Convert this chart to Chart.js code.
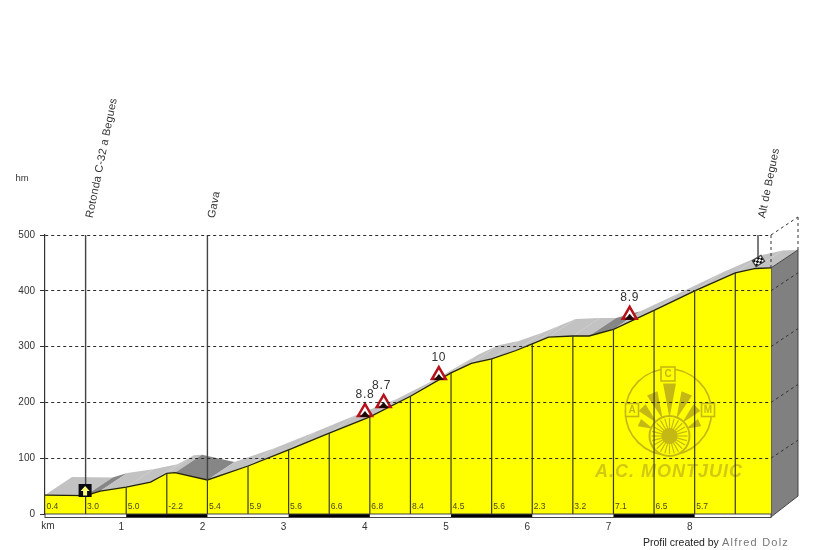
<!DOCTYPE html>
<html lang="es">
<head>
  <meta charset="UTF-8">
  <title>Alt de Begues</title>
  <script src="https://cdn.jsdelivr.net/npm/chart.js"></script>
  <style>
    html, body { margin: 0; padding: 0; background: #fff; }
    canvas { display: block; }
  </style>
</head>
<body>
  <canvas id="profile" width="815" height="550"></canvas>
  <script>
    // Profile
    const profileKm = [0, 0.5, 0.68, 1, 1.3, 1.5, 1.6, 2, 2.5, 3, 3.5, 4, 4.5, 5, 5.25, 5.5, 5.8, 6, 6.2, 6.5, 6.7, 7, 7.5, 8, 8.5, 8.75, 8.94];
    const profileElev = [34, 33, 41, 48, 57, 73, 74, 61, 86, 115, 145, 174, 211, 253, 270, 278, 293, 305, 317, 319, 319, 331, 365, 400, 432, 440, 441];

    // Gradient of each half kilometre
    const gradeLabels = ['0.4', '3.0', '5.0', '-2.2', '5.4', '5.9', '5.6', '6.6', '6.8', '8.4', '4.5', '5.6', '2.3', '3.2', '7.1', '6.5', '5.7'];

    // Steep ramps (triangle signs)
    const signKm = [3.94, 4.17, 4.85, 7.2];
    const signElev = [183, 199, 249, 357];
    const signLabels = ['8.8', '8.7', '10', '8.9'];

    // Named places
    const placeNames = ['Rotonda C-32 a Begues', 'Gava', 'Alt de Begues'];
    const placeKm = [0.5, 2, 8.78];

    const yTicks = [0, 100, 200, 300, 400, 500];
    const xTicks = [1, 2, 3, 4, 5, 6, 7, 8];

    const END_KM = 8.94;
    const DEPTH_X = 27;   // perspective shift of the back edge, px
    const DEPTH_Y = -18;
    const FONT = '"Liberation Sans", Arial, sans-serif';
    const LOGO = '#c4b914';

    function px(chart, km, m) {
      return [chart.scales.x.getPixelForValue(km), chart.scales.y.getPixelForValue(m)];
    }

    function poly(ctx, pts, fill, stroke) {
      ctx.beginPath();
      pts.forEach((p, i) => i ? ctx.lineTo(p[0], p[1]) : ctx.moveTo(p[0], p[1]));
      ctx.closePath();
      if (fill) { ctx.fillStyle = fill; ctx.fill(); }
      if (stroke) { ctx.strokeStyle = stroke; ctx.stroke(); }
    }

    function text(ctx, str, x, y, font, color, align, spacing) {
      ctx.font = font;
      ctx.fillStyle = color;
      ctx.textAlign = align || 'center';
      ctx.textBaseline = 'middle';
      ctx.letterSpacing = spacing || '0px';
      ctx.fillText(str, x, y);
      ctx.letterSpacing = '0px';
    }

    // The extruded road surface and the grey end wall
    function drawDepth(chart) {
      const ctx = chart.ctx;
      ctx.save();
      const front = profileKm.map((k, i) => px(chart, k, profileElev[i]));
      for (let i = 0; i < front.length - 1; i++) {
        const a = front[i], b = front[i + 1];
        const slope = (profileElev[i + 1] - profileElev[i]) / (profileKm[i + 1] - profileKm[i]) / 10;
        // descents and the short 3.5-4.6% ramps are in shadow
        const dark = slope < -1 || (slope > 3.5 && slope < 4.6);
        poly(ctx, [a, b, [b[0] + DEPTH_X, b[1] + DEPTH_Y], [a[0] + DEPTH_X, a[1] + DEPTH_Y]], dark ? '#868686' : '#c2c2c2');
      }
      const top = front[front.length - 1];
      const base = px(chart, END_KM, 0);
      ctx.lineWidth = 1;
      poly(ctx, [top, [top[0] + DEPTH_X, top[1] + DEPTH_Y], [base[0] + DEPTH_X, base[1] + DEPTH_Y], [base[0], base[1] + 3]], '#808080', '#444');

      // dashes running over the wall and the open box on top of it
      ctx.strokeStyle = '#333';
      ctx.setLineDash([3, 3]);
      yTicks.forEach(v => {
        if (v === 0) return;
        const p = px(chart, END_KM, v);
        ctx.beginPath();
        ctx.moveTo(p[0], p[1]);
        ctx.lineTo(p[0] + DEPTH_X, p[1] + DEPTH_Y);
        ctx.stroke();
      });
      const corner = px(chart, END_KM, 500);
      ctx.beginPath();
      ctx.moveTo(corner[0], corner[1]);
      ctx.lineTo(top[0], top[1]);
      ctx.moveTo(corner[0] + DEPTH_X, corner[1] + DEPTH_Y);
      ctx.lineTo(top[0] + DEPTH_X, top[1] + DEPTH_Y);
      ctx.stroke();
      ctx.restore();
    }

    function drawLogo(chart) {
      const ctx = chart.ctx;
      const cx = 668.5, cy = 412, wx = 669.5, wy = 436;
      ctx.save();
      ctx.strokeStyle = LOGO;
      ctx.lineWidth = 1.6;
      ctx.beginPath();
      ctx.arc(cx, cy, 43, 0, Math.PI * 2);
      ctx.stroke();
      // shell ribs fanning out of the wheel, shorter towards the sides
      [-66, -44, -22, 0, 22, 44, 66].forEach(deg => {
        const a = (deg - 90 - 7) * Math.PI / 180, b = (deg - 90 + 7) * Math.PI / 180;
        const len = 53 - Math.abs(deg) * 0.3;
        poly(ctx, [
          [wx + Math.cos(a) * len, wy + Math.sin(a) * len],
          [wx + Math.cos(b) * len, wy + Math.sin(b) * len],
          [wx + Math.cos((a + b) / 2) * 18, wy + Math.sin((a + b) / 2) * 18]
        ], LOGO);
      });
      // wheel
      ctx.lineWidth = 2;
      ctx.beginPath();
      ctx.arc(wx, wy, 20, 0, Math.PI * 2);
      ctx.fillStyle = '#ffff00';
      ctx.fill();
      ctx.stroke();
      ctx.lineWidth = 1.2;
      for (let a = 0; a < 360; a += 15) {
        const r = a * Math.PI / 180;
        ctx.beginPath();
        ctx.moveTo(wx + Math.cos(r) * 6, wy + Math.sin(r) * 6);
        ctx.lineTo(wx + Math.cos(r) * 18, wy + Math.sin(r) * 18);
        ctx.stroke();
      }
      ctx.fillStyle = LOGO;
      ctx.beginPath();
      ctx.arc(wx, wy, 8, 0, Math.PI * 2);
      ctx.fill();
      // letter plates
      [['C', 668, 374, 14], ['A', 632, 410, 13], ['M', 708, 410, 13]].forEach(([l, x, y, s]) => {
        ctx.fillStyle = '#ffff00';
        ctx.lineWidth = 1.6;
        ctx.fillRect(x - s / 2, y - s / 2, s, s);
        ctx.strokeRect(x - s / 2, y - s / 2, s, s);
        text(ctx, l, x, y + 0.5, 'bold 10px ' + FONT, LOGO);
      });
      text(ctx, 'A.C. MONTJUIC', 669, 472, 'italic bold 18px ' + FONT, '#d2ca12', 'center', '1px');
      ctx.restore();
    }

    // Half-km posts, gradients and the ruler under the profile
    function drawPosts(chart) {
      const ctx = chart.ctx;
      ctx.save();
      ctx.strokeStyle = '#3a3a1a';
      ctx.lineWidth = 1.2;
      profileKm.forEach((k, i) => {
        if (k === 0 || k === END_KM || (k * 2) % 1 !== 0) return;
        const a = px(chart, k, profileElev[i]);
        ctx.beginPath();
        ctx.moveTo(a[0], a[1]);
        ctx.lineTo(a[0], chart.scales.y.getPixelForValue(0));
        ctx.stroke();
      });
      gradeLabels.forEach((g, i) => {
        const p = px(chart, i * 0.5, 0);
        text(ctx, g, p[0] + 1.5, p[1] - 7, '8.5px ' + FONT, '#4a4a20', 'left');
      });
      const y0 = chart.scales.y.getPixelForValue(0);
      const x0 = chart.scales.x.getPixelForValue(0);
      const x1 = chart.scales.x.getPixelForValue(END_KM);
      ctx.fillStyle = '#fff';
      ctx.fillRect(x0, y0, x1 - x0, 3.5);
      ctx.fillStyle = '#000';
      xTicks.forEach(k => {
        if (k % 2 === 0) return;
        const a = chart.scales.x.getPixelForValue(k);
        ctx.fillRect(a, y0, chart.scales.x.getPixelForValue(k + 1) - a, 3.5);
      });
      ctx.strokeStyle = '#444';
      ctx.lineWidth = 1;
      ctx.strokeRect(x0, y0, x1 - x0, 3.5);
      ctx.restore();
    }

    function drawMarkers(chart) {
      const ctx = chart.ctx;
      ctx.save();
      // inner shade and figure of each ramp sign
      signKm.forEach((k, i) => {
        const p = px(chart, k, signElev[i]);
        poly(ctx, [[p[0], p[1] - 1], [p[0] + 5, p[1] + 5], [p[0] - 5, p[1] + 5]], '#1a0a0a');
        text(ctx, signLabels[i], p[0] + (i === 1 ? -2 : 0), p[1] - 17, '12px ' + FONT, '#333', 'center', '0.8px');
      });

      // place lines
      ctx.strokeStyle = '#444';
      ctx.lineWidth = 1.4;
      const topY = chart.scales.y.getPixelForValue(500);
      placeKm.forEach((k, i) => {
        const x = chart.scales.x.getPixelForValue(k);
        const end = i === 2 ? 258 : chart.scales.y.getPixelForValue(i === 0 ? 40 : 61);
        ctx.beginPath();
        ctx.moveTo(x, topY);
        ctx.lineTo(x, end);
        ctx.stroke();
      });

      // place names
      placeNames.forEach((n, i) => {
        const x = chart.scales.x.getPixelForValue(placeKm[i]);
        ctx.save();
        ctx.translate(x + 4, 218);
        ctx.rotate(-78.5 * Math.PI / 180);
        text(ctx, n, 0, 0, '11px ' + FONT, '#333', 'left', '0.2px');
        ctx.restore();
      });

      // start marker
      const s = px(chart, placeKm[0], 0);
      const sy = 491;
      ctx.fillStyle = '#0a0a14';
      ctx.fillRect(s[0] - 7, sy - 7, 13, 13);
      poly(ctx, [[s[0] - 0.5, sy - 5], [s[0] + 4, sy], [s[0] + 1.5, sy], [s[0] + 1.5, sy + 4.5], [s[0] - 2.5, sy + 4.5], [s[0] - 2.5, sy], [s[0] - 5, sy]], '#ffff7a');

      // finish flag
      const fx = chart.scales.x.getPixelForValue(placeKm[2]);
      ctx.save();
      ctx.translate(fx + 0.5, 261);
      ctx.rotate(-32 * Math.PI / 180);
      ctx.fillStyle = '#fff';
      ctx.fillRect(-5, -3.5, 10, 7);
      ctx.fillStyle = '#000';
      for (let c = 0; c < 4; c++) {
        for (let r = 0; r < 3; r++) {
          if ((c + r) % 2 === 0) ctx.fillRect(-5 + c * 2.5, -3.5 + r * 2.33, 2.5, 2.33);
        }
      }
      ctx.strokeRect(-5, -3.5, 10, 7);
      ctx.restore();

      // loose labels
      text(ctx, 'hm', 22, 178, '9.5px ' + FONT, '#333');
      text(ctx, 'km', 48, 526, '10px ' + FONT, '#333');
      text(ctx, 'Profil created by', 643, 543, '10.5px ' + FONT, '#222', 'left');
      text(ctx, 'Alfred Dolz', 722, 543, '11px ' + FONT, '#777', 'left', '1.2px');
      ctx.restore();
    }

    const profileArt = {
      id: 'profileArt',
      beforeDatasetsDraw(chart) { drawDepth(chart); },
      afterDatasetDraw(chart, args) {
        if (args.index === 0) { drawLogo(chart); drawPosts(chart); }
      },
      afterDatasetsDraw(chart) { drawMarkers(chart); }
    };

    new Chart(document.getElementById('profile').getContext('2d'), {
      type: 'line',
      data: {
        datasets: [{
          label: 'Elevation',
          data: profileKm.map((k, i) => ({ x: k, y: profileElev[i] })),
          borderColor: '#23230a',
          borderWidth: 1.3,
          backgroundColor: '#ffff00',
          fill: 'origin',
          tension: 0,
          pointRadius: 0,
          order: 2
        }, {
          label: 'Ramps',
          type: 'scatter',
          data: signKm.map((k, i) => ({ x: k, y: signElev[i] })),
          pointStyle: 'triangle',
          pointRadius: 8,
          pointBackgroundColor: '#fff',
          pointBorderColor: '#b5121b',
          pointBorderWidth: 2.5,
          order: 1
        }]
      },
      options: {
        responsive: false,
        animation: false,
        layout: { padding: { top: 235, right: 44, left: 0, bottom: 0 } },
        plugins: { legend: { display: false }, tooltip: { enabled: false } },
        scales: {
          x: {
            type: 'linear',
            min: 0,
            max: END_KM,
            afterFit: s => { s.height = 36; },
            afterBuildTicks: s => { s.ticks = xTicks.map(v => ({ value: v })); },
            grid: { display: false, drawTicks: false },
            border: { display: false },
            ticks: {
              font: { family: FONT, size: 10 },
              color: '#333',
              padding: 7,
              labelOffset: -5,
              maxRotation: 0,
              autoSkip: false
            }
          },
          y: {
            min: 0,
            max: 500,
            afterFit: s => { s.width = 45; },
            afterBuildTicks: s => { s.ticks = yTicks.map(v => ({ value: v })); },
            grid: {
              z: 1,
              color: c => c.tick && c.tick.value === 0 ? 'rgba(0,0,0,0)' : '#2a2a2a',
              tickColor: '#333',
              tickLength: 5,
              lineWidth: 1
            },
            border: { color: '#333', width: 1.2, dash: [3, 3], z: 1 },
            ticks: {
              font: { family: FONT, size: 10 },
              color: '#333',
              padding: 5
            }
          }
        }
      },
      plugins: [profileArt]
    });
  </script>
</body>
</html>
